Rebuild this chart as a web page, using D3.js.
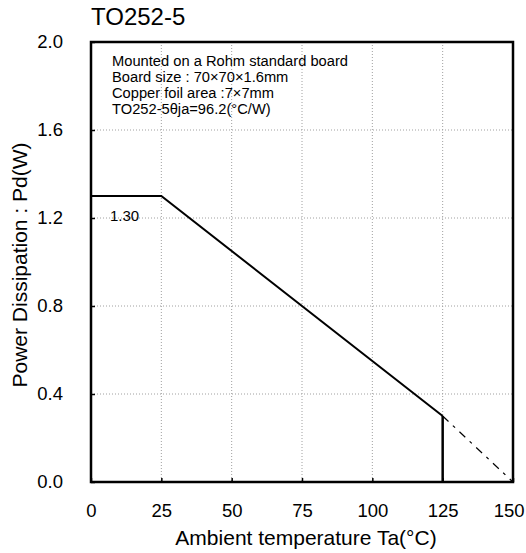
<!DOCTYPE html>
<html><head><meta charset="utf-8">
<script src="https://cdn.jsdelivr.net/npm/d3@7"></script>
<style>body{margin:0;background:#fff}svg{display:block;font-family:"Liberation Sans",Arial,sans-serif}</style>
</head><body>
<svg id="c" width="526" height="553"></svg>
<script>
const xTicks = [0, 25, 50, 75, 100, 125, 150];
const yTicks = [0.0, 0.4, 0.8, 1.2, 1.6, 2.0];
const solidTemp = [0, 25, 125];
const solidPd = [1.30, 1.30, 0.30];
const dashTemp = [125, 150];
const dashPd = [0.30, 0.0];
const cutTemp = [125, 125];
const cutPd = [0.30, 0.0];
const notes = ["Mounted on a Rohm standard board", "Board size : 70×70×1.6mm", "Copper foil area :7×7mm", "TO252-5θja=96.2(°C/W)"];
const title = "TO252-5";
const labelValue = "1.30";

const svg = d3.select("#c");
const L = 91, R = 513, T = 42, B = 482;
const x = d3.scaleLinear().domain([0, 150]).range([L, R]);
const y = d3.scaleLinear().domain([0, 2.0]).range([B, T]);
const FF = "Liberation Sans, Arial, sans-serif";

// grid
const g = svg.append("g");
g.selectAll("line.gx").data(xTicks.slice(1, -1)).enter().append("line")
  .attr("x1", d => x(d)).attr("x2", d => x(d)).attr("y1", T).attr("y2", B)
  .attr("stroke", "#a0a0a0").attr("stroke-width", 1).attr("stroke-dasharray", "1,2");
g.selectAll("line.gy").data(yTicks.slice(1, -1)).enter().append("line")
  .attr("y1", d => y(d)).attr("y2", d => y(d)).attr("x1", L).attr("x2", R)
  .attr("stroke", "#a0a0a0").attr("stroke-width", 1).attr("stroke-dasharray", "1,2");

// axes
const xAxis = d3.axisBottom(x).tickValues(xTicks).tickSize(-4).tickPadding(22).tickFormat(d3.format("d"));
const ax = svg.append("g").attr("transform", `translate(0,${B})`).call(xAxis);
ax.select(".domain").remove();
ax.selectAll("line").attr("stroke", "#000").attr("stroke-width", 1.5);
ax.selectAll("text").attr("font-size", 18.5).attr("fill", "#000").attr("font-family", FF);
ax.selectAll(".tick").filter(d => d === 150).select("text")
  .attr("text-anchor", "end").attr("x", 524 - R);

const yAxis = d3.axisLeft(y).tickValues(yTicks).tickSize(-4).tickPadding(28).tickFormat(d3.format(".1f"));
const ay = svg.append("g").attr("transform", `translate(${L},0)`).call(yAxis);
ay.select(".domain").remove();
ay.selectAll("line").attr("stroke", "#000").attr("stroke-width", 1.5);
ay.selectAll("text").attr("font-size", 18.5).attr("fill", "#000").attr("font-family", FF);

// frame
svg.append("rect").attr("x", L).attr("y", T).attr("width", R - L).attr("height", B - T)
  .attr("fill", "none").attr("stroke", "#000").attr("stroke-width", 2.5);

// data lines
const line = d3.line().x(d => x(d[0])).y(d => y(d[1]));
svg.append("path").datum(solidTemp.map((t, i) => [t, solidPd[i]]))
  .attr("d", line).attr("fill", "none").attr("stroke", "#000").attr("stroke-width", 2);
svg.append("path").datum(cutTemp.map((t, i) => [t, cutPd[i]]))
  .attr("d", line).attr("fill", "none").attr("stroke", "#000").attr("stroke-width", 2.5);
svg.append("path").datum(dashTemp.map((t, i) => [t, dashPd[i]]))
  .attr("d", line).attr("fill", "none").attr("stroke", "#000").attr("stroke-width", 1.2)
  .attr("stroke-dasharray", "8,6,3,6");

// texts
svg.append("text").attr("x", 91).attr("y", 25).attr("font-size", 24).text(title);
svg.append("g").selectAll("text").data(notes).enter().append("text")
  .attr("x", 112).attr("y", (d, i) => 66 + i * 16).attr("font-size", 14.7).text(d => d);
svg.append("text").attr("x", 110).attr("y", 221).attr("font-size", 15).text(labelValue);

svg.append("text").attr("x", 306).attr("y", 545).attr("text-anchor", "middle")
  .attr("font-size", 21).text("Ambient temperature Ta(°C)");
svg.append("text").attr("transform", `translate(27,265) rotate(-90)`).attr("text-anchor", "middle")
  .attr("font-size", 21).text("Power Dissipation : Pd(W)");
</script>
</body></html>
